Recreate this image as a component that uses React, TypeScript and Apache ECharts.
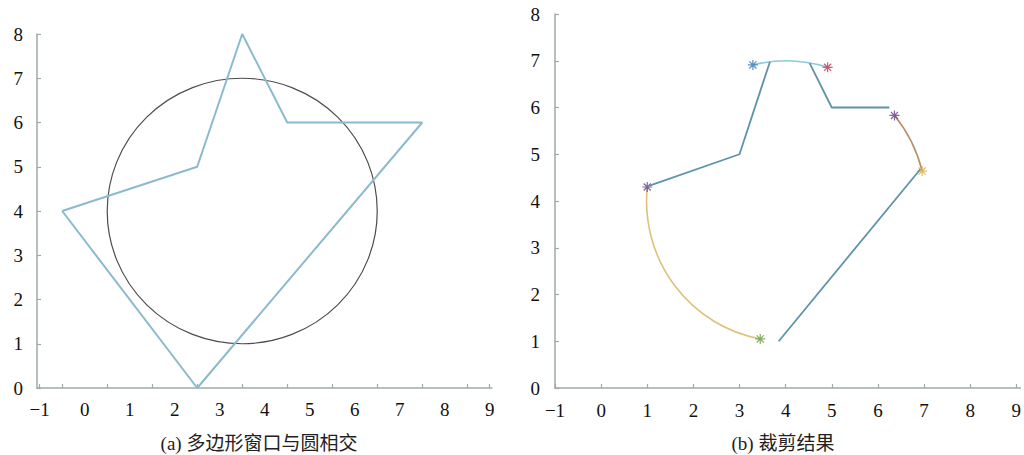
import React, { useEffect, useRef } from "react";
import * as echarts from "echarts";

// ---- Panel (a): polygon window and circle ----
const polyX = [-0.5, 2.5, 3.5, 4.5, 7.5, 2.5, -0.5];
const polyY = [4, 5, 8, 6, 6, 0, 4];
const circleA = [3.5, 4, 3]; // cx, cy, r

// ---- Panel (b): clipping result ----
const circleB = [4, 4, 3];
const seg1 = [[1.02, 4.32], [3, 5], [3.66, 6.98]];
const seg2 = [[4.52, 6.95], [5, 6], [6.25, 6]];
const seg3 = [[6.92, 4.68], [3.85, 1.0]];
// arcs in clockwise (screen) order: x1, y1, x2, y2
const arcTop = [3.29, 6.91, 4.91, 6.86];
const arcRight = [6.36, 5.83, 6.96, 4.64];
const arcLeft = [3.45, 1.05, 1.0, 4.3];
const arcColors = ["#8ccbd9", "#b8906a", "#dcc27a"];
const starX = [3.29, 4.91, 6.36, 6.96, 1.0, 3.45];
const starY = [6.91, 6.86, 5.83, 4.64, 4.3, 1.05];
const starColors = ["#3f7fb5", "#c2405e", "#6e4a8c", "#e0b045", "#6e4a8c", "#6fa24e"];

const xLabelsA = [-1, 0, 1, 2, 3, 4, 5, 6, 7, 8, 9];
const xTicksA = [-1, -0.5, 0.5, 1.5, 2.5, 3.5, 4.5, 5.5, 6.5, 7.5, 8.5, 9];
const xTicksB = [-1, 0, 1, 2, 3, 4, 5, 6, 7, 8, 9];
const yTicks = [0, 1, 2, 3, 4, 5, 6, 7, 8];

const captionA = "(a) 多边形窗口与圆相交";
const captionB = "(b) 裁剪结果";

const STAR =
  "path://M0 4.4L10 4.4L10 5.6L0 5.6Z M4.4 0L5.6 0L5.6 10L4.4 10Z M1.0 1.9L1.9 1.0L9.0 8.1L8.1 9.0Z M8.1 1.0L9.0 1.9L1.9 9.0L1.0 8.1Z";

const FONT = '"Liberation Serif", "Noto Sans CJK SC", serif';
const AXIS_COLOR = "#9eaaa9";

const fmt = (v: number) => "{t|" + (v < 0 ? "\u2212" + -v : String(v)) + "}";

const tickRich = {
  t: { fontFamily: "Liberation Serif", fontSize: 19, color: "#111" },
};

function App() {
  const ref = useRef<HTMLDivElement>(null);
  useEffect(() => {
    if (!ref.current) return;
    const chart = echarts.init(ref.current, null, { renderer: "svg" });

    const xAxis = (idx: number, min: number, max: number, ticks: number[], margin: number) => ({
      type: "value",
      gridIndex: idx,
      min,
      max,
      axisLine: { show: true, onZero: false, lineStyle: { color: AXIS_COLOR, width: 1.5 } },
      splitLine: { show: false },
      axisTick: {
        show: true,
        inside: true,
        length: 4,
        customValues: ticks,
        lineStyle: { color: AXIS_COLOR, width: 1.2 },
      },
      axisLabel: {
        show: true,
        customValues: xLabelsA,
        formatter: fmt,
        margin,
        fontFamily: "Liberation Serif",
        fontSize: 19,
        color: "#111",
        rich: tickRich,
      },
    });
    const yAxis = (idx: number, margin: number) => ({
      type: "value",
      gridIndex: idx,
      min: 0,
      max: 8,
      interval: 1,
      axisLine: { show: true, onZero: false, lineStyle: { color: AXIS_COLOR, width: 1.5 } },
      splitLine: { show: false },
      axisTick: {
        show: true,
        inside: true,
        length: 4,
        lineStyle: { color: AXIS_COLOR, width: 1.2 },
      },
      axisLabel: {
        show: true,
        margin,
        formatter: fmt,
        fontFamily: "Liberation Serif",
        fontSize: 19,
        color: "#111",
        rich: tickRich,
      },
    });

    const circleSeries = (xi: number, c: number[]) => ({
      type: "custom",
      xAxisIndex: xi,
      yAxisIndex: xi,
      data: [c],
      silent: true,
      renderItem: (params: any, api: any) => {
        const p = api.coord([api.value(0), api.value(1)]);
        const s = api.size([api.value(2), api.value(2)]);
        const rx = s[0];
        const ry = s[1];
        const d = `M ${p[0] - rx} ${p[1]} A ${rx} ${ry} 0 1 0 ${p[0] + rx} ${p[1]} A ${rx} ${ry} 0 1 0 ${p[0] - rx} ${p[1]} Z`;
        return {
          type: "path",
          shape: { pathData: d },
          style: { fill: "none", stroke: "#4d4d4d", lineWidth: 1.2 },
        };
      },
    });

    const arcSeries = (arc: number[], color: string) => ({
      type: "custom",
      xAxisIndex: 1,
      yAxisIndex: 1,
      data: [[arc[0], arc[1], arc[2], arc[3], circleB[2]]],
      silent: true,
      renderItem: (params: any, api: any) => {
        const a = api.coord([api.value(0), api.value(1)]);
        const b = api.coord([api.value(2), api.value(3)]);
        const s = api.size([api.value(4), api.value(4)]);
        const d = `M ${a[0]} ${a[1]} A ${s[0]} ${s[1]} 0 0 1 ${b[0]} ${b[1]}`;
        return {
          type: "path",
          shape: { pathData: d },
          style: { fill: "none", stroke: color, lineWidth: 1.6 },
        };
      },
    });

    const segSeries = (seg: number[][]) => ({
      type: "line",
      xAxisIndex: 1,
      yAxisIndex: 1,
      data: seg,
      symbol: "none",
      silent: true,
      lineStyle: { color: "#5f93aa", width: 1.8 },
    });

    chart.setOption({
      animation: false,
      textStyle: { fontFamily: FONT, fontSize: 19, color: "#111" },
      grid: [
        { left: 37, top: 34, width: 455, height: 354, containLabel: false },
        { left: 555, top: 14, width: 469, height: 374, containLabel: false },
      ],
      xAxis: [xAxis(0, -1.06, 9.05, xTicksA, 12), xAxis(1, -1, 9.09, xTicksB, 13)],
      yAxis: [yAxis(0, 14), yAxis(1, 15)],
      series: [
        {
          type: "line",
          xAxisIndex: 0,
          yAxisIndex: 0,
          data: polyX.map((x, i) => [x, polyY[i]]),
          symbol: "none",
          silent: true,
          lineStyle: { color: "#8bbacd", width: 2 },
        },
        circleSeries(0, circleA),
        segSeries(seg1),
        segSeries(seg2),
        segSeries(seg3),
        arcSeries(arcTop, arcColors[0]),
        arcSeries(arcRight, arcColors[1]),
        arcSeries(arcLeft, arcColors[2]),
        {
          type: "scatter",
          xAxisIndex: 1,
          yAxisIndex: 1,
          symbol: STAR,
          symbolSize: 10,
          silent: true,
          data: starX.map((x, i) => ({
            value: [x, starY[i]],
            itemStyle: { color: starColors[i], opacity: 0.85 },
          })),
        },
      ],
      graphic: [
        {
          type: "text",
          x: 259,
          y: 443,
          style: {
            text: captionA,
            fontFamily: FONT,
            fontSize: 19,
            fill: "#222",
            textAlign: "center",
            textVerticalAlign: "middle",
          },
        },
        {
          type: "text",
          x: 783,
          y: 443,
          style: {
            text: captionB,
            fontFamily: FONT,
            fontSize: 19,
            fill: "#222",
            textAlign: "center",
            textVerticalAlign: "middle",
          },
        },
      ],
    });
    return () => chart.dispose();
  }, []);
  return (
    <div
      ref={ref}
      style={{ position: "absolute", left: 0, top: 0, width: 1024, height: 455, background: "#fff" }}
    />
  );
}

export default App;
